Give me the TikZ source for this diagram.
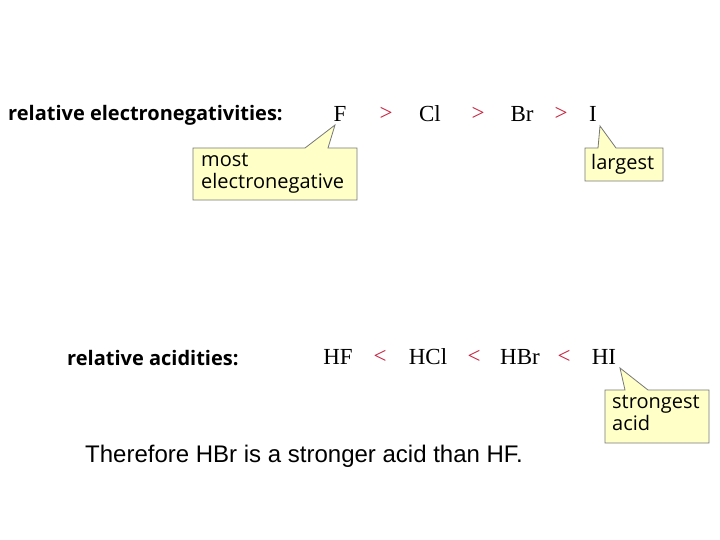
\documentclass[tikz,border=0pt]{standalone}
\usepackage{fontspec}
\setmainfont{Liberation Serif}
\setsansfont{Liberation Sans}
\newfontfamily\callfont{Open Sans}
\begin{document}
\begin{tikzpicture}[x=1pt,y=-1pt,
  lab/.style={font=\callfont\bfseries\fontsize{20}{24}\selectfont,anchor=west,inner sep=0},
  chem/.style={font=\fontsize{23}{26}\selectfont,inner sep=0},
  op/.style={font=\fontsize{23}{26}\selectfont,text={rgb,255:red,200;green,30;blue,60},inner sep=0},
  call/.style={draw={rgb,255:red,120;green,120;blue,120},fill={rgb,255:red,255;green,255;blue,200},line width=0.8pt},
  ctext/.style={font=\callfont\fontsize{20}{22}\selectfont,align=left,anchor=north west,inner sep=0}]
\useasboundingbox (0,0) rectangle (720,540);
\node[lab] (en) at (8,115) {relative electronegativities:};
\node[chem] (F) at (340,114) {F};
\node[op] (g1) at (386,114) {>};
\node[chem] (Cl) at (430,114) {Cl};
\node[op] (g2) at (478,114) {>};
\node[chem] (Br) at (522,114) {Br};
\node[op] (g3) at (561,114) {>};
\node[chem] (I) at (593,114) {I};
\draw[call] (193,148) -- (305,148) -- (335,125) -- (328,148) -- (357,148) -- (357,200) -- (193,200) -- cycle;
\node[ctext] (t1) at (201,153) {most\\electronegative};
\draw[call] (585,148) -- (598,148) -- (600,126) -- (616,148) -- (663,148) -- (663,181) -- (585,181) -- cycle;
\node[ctext] (t2) at (591,154) {largest};
\node[lab] (ac) at (67,358) {relative acidities:};
\node[chem] (HF) at (338,357) {HF};
\node[op] (l1) at (380,357) {<};
\node[chem] (HCl) at (428,357) {HCl};
\node[op] (l2) at (474,357) {<};
\node[chem] (HBr) at (520,357) {HBr};
\node[op] (l3) at (564,357) {<};
\node[chem] (HI) at (604,357) {HI};
\draw[call] (605,390) -- (625,390) -- (620,368) -- (648,390) -- (709,390) -- (709,443) -- (605,443) -- cycle;
\node[ctext] (t3) at (612,395) {strongest\\acid};
\node[font=\sffamily\fontsize{24}{28}\selectfont,anchor=west,inner sep=0] (th) at (85,456) {Therefore HBr is a stronger acid than HF.};
\end{tikzpicture}
\end{document}
